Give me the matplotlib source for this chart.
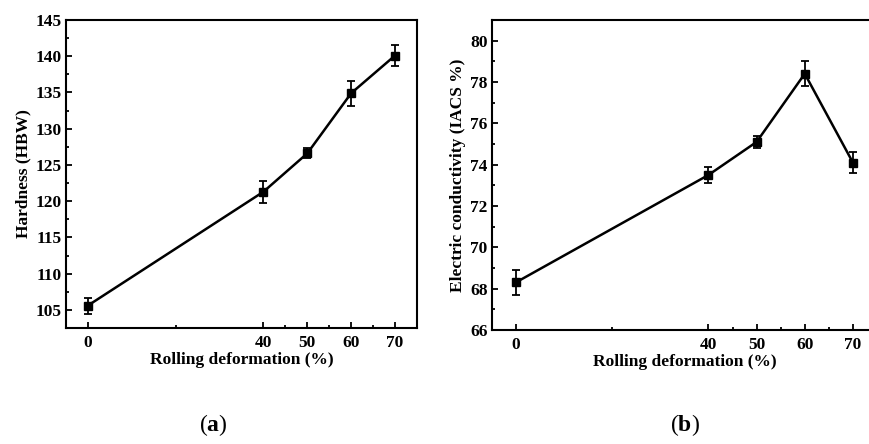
import matplotlib
matplotlib.use("Agg")
import matplotlib.pyplot as plt
from matplotlib.ticker import FixedLocator, MultipleLocator

plt.rcParams['font.family'] = ['Liberation Serif', 'DejaVu Serif']
plt.rcParams['mathtext.fontset'] = 'custom'
plt.rcParams['mathtext.rm'] = 'Liberation Serif'
plt.rcParams['mathtext.bf'] = 'Liberation Serif:bold'

deformation = [0, 40, 50, 60, 70]
hardness = [105.6, 121.3, 126.6, 134.9, 140.1]
hardness_err = [1.1, 1.5, 0.7, 1.7, 1.4]
conductivity = [68.3, 73.5, 75.1, 78.4, 74.1]
conductivity_err = [0.6, 0.4, 0.3, 0.6, 0.5]
x_ticks = [0, 40, 50, 60, 70]
x_minor = [20, 45, 55, 65]
xlabel = "Rolling deformation (%)"
ylabel_a = "Hardness (HBW)"
ylabel_b = "Electric conductivity (IACS %)"
panel_labels = ["a", "b"]

W, H = 870, 444
fig = plt.figure(figsize=(W / 100, H / 100), dpi=100)

def px(x0, y0, x1, y1):
    return [x0 / W, 1 - y1 / H, (x1 - x0) / W, (y1 - y0) / H]

ax1 = fig.add_axes(px(66, 20, 417, 328))
ax2 = fig.add_axes(px(491.7, 20, 877, 330))

def style(ax, y, err, ylim, ymajor, yminor, ylabel):
    ax.errorbar(deformation, y, yerr=err, color='black', lw=1.8,
                marker='s', ms=5.5, capsize=3, elinewidth=1.3, capthick=1.3)
    ax.set_xlim(-5, 75)
    ax.set_ylim(*ylim)
    ax.xaxis.set_major_locator(FixedLocator(x_ticks))
    ax.xaxis.set_minor_locator(FixedLocator(x_minor))
    ax.yaxis.set_major_locator(MultipleLocator(ymajor))
    ax.yaxis.set_minor_locator(MultipleLocator(yminor))
    ax.tick_params(which='both', direction='in', width=1.3)
    ax.tick_params(which='major', length=4)
    ax.tick_params(which='minor', length=2)
    ax.tick_params(axis='x', pad=5, labelsize=12.5)
    ax.tick_params(axis='y', pad=3, labelsize=12.5)
    for lab in ax.get_xticklabels() + ax.get_yticklabels():
        lab.set_fontweight('bold')
    for s in ax.spines.values():
        s.set_linewidth(1.5)
    ax.set_xlabel(xlabel, fontsize=12.5, fontweight='bold', labelpad=1)
    ax.set_ylabel(ylabel, fontsize=12.5, fontweight='bold', labelpad=3)

style(ax1, hardness, hardness_err, (102.5, 145), 5, 2.5, ylabel_a)
style(ax2, conductivity, conductivity_err, (66, 81), 2, 1, ylabel_b)

fig.text(213 / W, 1 - 425 / H, "($\\mathbf{%s}$)" % panel_labels[0],
         ha='center', va='center', fontsize=17)
fig.text(685 / W, 1 - 425 / H, "($\\mathbf{%s}$)" % panel_labels[1],
         ha='center', va='center', fontsize=17)

fig.savefig("out.png", dpi=100)
